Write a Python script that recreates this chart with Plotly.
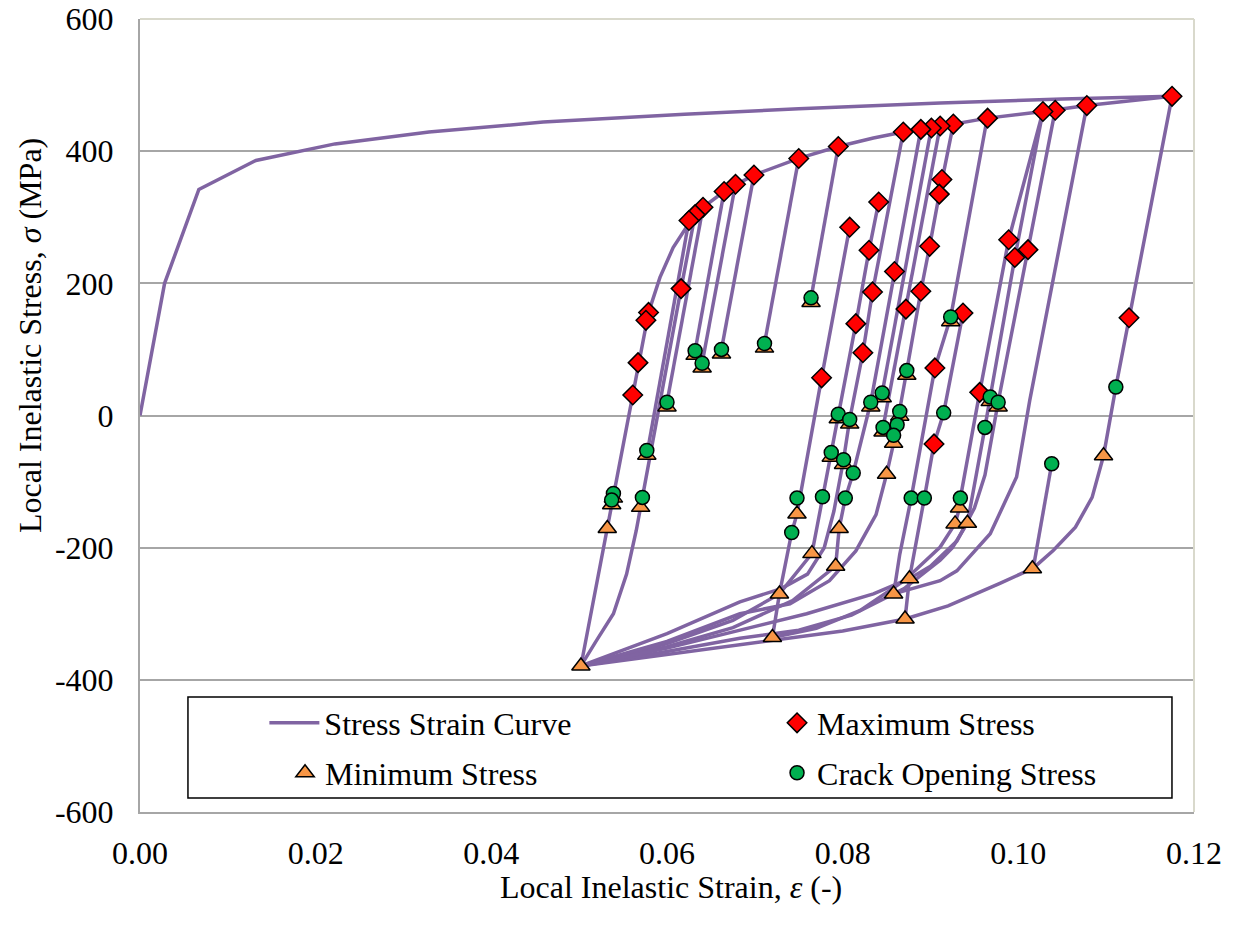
import plotly.graph_objects as go

# ---------------- data ----------------
# stress-strain path, branches separated by None
strain = [
    # monotonic loading
    0.0, 0.0028, 0.0067, 0.0132, 0.0222, 0.0329, 0.0459, 0.0524, 0.0620, 0.0750, 0.0911, 0.1050, 0.1175, None,
    # main unloading
    0.1175, 0.1126, 0.1111, 0.1097, 0.1084, 0.1065, 0.1040, 0.1017, 0.0979, 0.0920, 0.0871, 0.0800, 0.0720, 0.0600, 0.0502, None,
    0.1017, 0.1038, None,
    # reloading envelope
    0.0502, 0.0532, 0.0561, 0.0579, 0.0592, 0.0607, 0.0625, 0.0641, 0.0665, 0.0699, 0.0750, 0.0795, 0.0835, 0.0869, 0.0901, 0.0926, 0.0965, 0.1028, 0.1078, 0.1175, None,
    0.0632, 0.0616, 0.0572, 0.0570, 0.0565, 0.0554, 0.0539, 0.0520, 0.0502, None,
    0.0625, 0.0577, None,
    0.0641, 0.0600, None,
    0.0665, 0.0632, None,
    0.0678, 0.0640, None,
    0.0699, 0.0662, None,
    0.0750, 0.0711, None,
    0.0795, 0.0764, None,
    # inner cycles
    0.0720, 0.0728, 0.0742, 0.0748, 0.0776, 0.0808, None,
    0.0841, 0.0830, 0.0815, 0.0795, 0.0787, 0.0777, 0.0765, 0.0728, 0.0675, 0.0600, 0.0502, None,
    0.0869, 0.0834, 0.0823, 0.0808, 0.0801, 0.0790, 0.0779, 0.0760, 0.0730, 0.0683, 0.0600, 0.0502, None,
    0.0889, 0.0859, 0.0832, 0.0812, 0.0803, 0.0796, 0.0792, 0.0743, 0.0675, 0.0600, 0.0502, None,
    0.0901, 0.0845, None,
    0.0911, 0.0872, 0.0846, None,
    0.0926, 0.0913, 0.0910, 0.0899, 0.0889, 0.0873, 0.0865, 0.0858, 0.0850, 0.0838, 0.0815, 0.0785, 0.0740, 0.0683, 0.0600, 0.0502, None,
    0.0964, 0.0923, 0.0905, 0.0878, 0.0865, 0.0858, None,
    0.1078, 0.1013, 0.0998, 0.0968, 0.0930, 0.0911, 0.0858, None,
    0.0871, 0.0876, 0.0893, 0.0904, 0.0915, 0.0937, None,
    0.1028, 0.0989, 0.0956, 0.0934, 0.0933, 0.0928, 0.0911, 0.0870, 0.0820, 0.0770, 0.0720, None,
    0.1028, 0.0996, 0.0968, 0.0962, 0.0942, 0.0925, 0.0911, 0.0870, 0.0810, 0.0750, 0.0683, 0.0600, 0.0502, None,
    0.1042, 0.1011, 0.0977, 0.0962, 0.0950, 0.0930, 0.0900, 0.0876, 0.0835, 0.0759, 0.0683, 0.0600, 0.0502,
]
stress = [
    0, 200, 342, 386, 411, 429, 444, 449, 456, 464, 473, 479, 483, None,
    483, 148, 43, -61, -124, -169, -204, -231, -254, -288, -308, -326, -340, -362, -379, None,
    -231, -73, None,
    -379, -171, 31, 156, 209, 254, 291, 315, 339, 364, 389, 407, 420, 429, 435, 441, 450, 460, 469, 483, None,
    304, 192, -124, -139, -174, -240, -300, -340, -379, None,
    295, -60, None,
    315, 20, None,
    339, 98, None,
    350, 79, None,
    364, 100, None,
    389, 109, None,
    407, 178, None,
    -336, -270, -177, -149, 57, 285, None,
    323, 250, 139, 2, -56, -123, -209, -270, -310, -345, -379, None,
    429, 187, 95, -6, -67, -145, -200, -240, -262, -282, -330, -379, None,
    433, 218, 20, -87, -125, -171, -228, -280, -321, -350, -379, None,
    435, 34, None,
    438, 161, -18, None,
    441, 357, 335, 256, 188, 68, 6, -42, -89, -150, -205, -250, -285, -300, -342, -379, None,
    446, 149, 72, -125, -210, -270, None,
    469, 23, -93, -179, -235, -250, -270, None,
    -308, -247, -125, -43, 4, 155, None,
    460, 266, 35, -125, -140, -164, -199, -250, -295, -322, -336, None,
    460, 239, 28, -18, -163, -200, -219, -262, -302, -325, -337, -357, -379, None,
    462, 251, 20, -90, -140, -190, -228, -247, -270, -300, -325, -352, -379,
]

max_strain = [0.1175, 0.1078, 0.1042, 0.1028, 0.0965, 0.0926, 0.0911, 0.0901, 0.0889, 0.0869, 0.0795,
              0.0750, 0.0699, 0.0678, 0.0665, 0.0641, 0.0632, 0.0625, 0.0616, 0.0579, 0.0576, 0.0567,
              0.0561, 0.0913, 0.0910, 0.0841, 0.0808, 0.0989, 0.0899, 0.1011, 0.0830, 0.0996, 0.0859,
              0.0834, 0.0889, 0.0872, 0.0937, 0.1126, 0.0815, 0.0823, 0.0905, 0.0776, 0.0956, 0.0904]
max_stress = [483, 469, 462, 460, 450, 441, 438, 435, 433, 429, 407,
              389, 364, 350, 339, 315, 304, 295, 192, 156, 144, 80,
              31, 357, 335, 323, 285, 266, 256, 251, 250, 239, 218,
              187, 188, 161, 155, 148, 139, 95, 72, 57, 35, -43]

min_strain = [0.0502, 0.0532, 0.0570, 0.0577, 0.0600, 0.0632, 0.0640, 0.0662, 0.0711, 0.0764,
              0.0720, 0.0728, 0.0748, 0.0765, 0.0792, 0.0796, 0.0850, 0.0858, 0.0858, 0.0876,
              0.0871, 0.0933, 0.0928, 0.0942, 0.1097, 0.1016, 0.0923, 0.0873, 0.0845, 0.0832,
              0.0968, 0.0977, 0.0795, 0.0808, 0.0865, 0.0787, 0.0801, 0.0846, 0.0539, 0.0537]
min_stress = [-379, -171, -139, -60, 13, 91, 72, 93, 102, 171,
              -336, -270, -149, -209, -228, -171, -89, -42, -270, -247,
              -308, -140, -164, -163, -61, -232, 142, 61, 27, 13,
              21, 13, -5, -13, -1, -63, -74, -25, -125, -135]

cos_strain = [0.0764, 0.0711, 0.0662, 0.0632, 0.0640, 0.0600, 0.0577, 0.0539, 0.0537, 0.0572,
              0.0923, 0.0873, 0.0845, 0.0832, 0.0968, 0.0977, 0.0915, 0.0865, 0.0795, 0.0808,
              0.0862, 0.0846, 0.0858, 0.0962, 0.0787, 0.0801, 0.0812, 0.0748, 0.0777, 0.0803,
              0.0878, 0.0893, 0.0934, 0.0742, 0.1038, 0.1111]
cos_stress = [178, 109, 100, 98, 79, 20, -53, -118, -128, -124,
              149, 68, 34, 20, 28, 20, 4, 6, 2, -6,
              -14, -18, -30, -18, -56, -67, -87, -125, -123, -125,
              -125, -125, -125, -177, -73, 43]

y_tickvals = [-600, -400, -200, 0, 200, 400, 600]
y_ticktext = ["-600", "-400", "-200", "0", "200", "400", "600"]
x_tickvals = [0.00, 0.02, 0.04, 0.06, 0.08, 0.10, 0.12]
x_ticktext = ["0.00", "0.02", "0.04", "0.06", "0.08", "0.10", "0.12"]

# ---------------- figure ----------------
FONT = "Liberation Serif, Times New Roman, serif"
fig = go.Figure()

fig.add_trace(go.Scatter(x=strain, y=stress, mode="lines", name="Stress Strain Curve",
                         line=dict(color="#8064A2", width=3.5), connectgaps=False, legend="legend"))
fig.add_trace(go.Scatter(x=max_strain, y=max_stress, mode="markers", name="Maximum Stress",
                         marker=dict(symbol="diamond", size=15, color="#FF0000",
                                     line=dict(color="black", width=1.5)), legend="legend2"))
fig.add_trace(go.Scatter(x=min_strain, y=min_stress, mode="markers", name="Minimum Stress",
                         marker=dict(symbol="triangle-up", size=16, color="#F79646",
                                     line=dict(color="black", width=1.5)), legend="legend3"))
fig.add_trace(go.Scatter(x=cos_strain, y=cos_stress, mode="markers", name="Crack Opening Stress",
                         marker=dict(symbol="circle", size=14, color="#00B050",
                                     line=dict(color="black", width=1.5)), legend="legend4"))

def leg(x, y, itemwidth=30):
    return dict(orientation="h", bgcolor="rgba(0,0,0,0)", borderwidth=0, itemwidth=itemwidth,
                font=dict(family=FONT, size=32, color="black"),
                xanchor="left", yanchor="middle", x=x, y=y)

fig.update_layout(
    width=1233, height=936,
    margin=dict(l=140, r=39, t=19, b=124),
    paper_bgcolor="white", plot_bgcolor="white",
    font=dict(family=FONT, size=32, color="black"),
    showlegend=True,
    legend=leg(0.118, 0.1122, 50),
    legend2=leg(0.6044, 0.1122),
    legend3=leg(0.1376, 0.0492),
    legend4=leg(0.6044, 0.0492),
    xaxis=dict(range=[0, 0.12], tickvals=x_tickvals, ticktext=x_ticktext, showgrid=False,
               zeroline=False, showline=True, linecolor="#A6A6A6", linewidth=2, automargin=False,
               ticks="outside", ticklen=12, tickcolor="rgba(0,0,0,0)",
               tickfont=dict(family=FONT, size=32, color="black")),
    yaxis=dict(range=[-600, 600], tickvals=y_tickvals, ticktext=y_ticktext, showgrid=True,
               gridcolor="#A6A6A6", gridwidth=2, zeroline=False, showline=True, automargin=False,
               linecolor="#A6A6A6", linewidth=2,
               ticks="outside", ticklen=18, tickcolor="rgba(0,0,0,0)",
               tickfont=dict(family=FONT, size=32, color="black")),
    shapes=[
        dict(type="line", xref="paper", yref="paper", x0=0, x1=1, y0=1, y1=1,
             line=dict(color="#D9D9CC", width=2)),
        dict(type="line", xref="paper", yref="paper", x0=1, x1=1, y0=0, y1=1,
             line=dict(color="#D9D9CC", width=2)),
        dict(type="rect", xref="paper", yref="paper", x0=0.0455, x1=0.9791, y0=0.0177, y1=0.1450,
             fillcolor="white", line=dict(color="black", width=1.5), layer="above"),
    ],
    annotations=[
        dict(text="Local Inelastic Strain, <i>ε</i> (-)", xref="paper", yref="paper",
             x=0.5038, y=-0.0946, xanchor="center", yanchor="middle", showarrow=False,
             font=dict(family=FONT, size=32, color="black")),
        dict(text="Local Inelastic Stress, <i>σ</i> (MPa)", xref="paper", yref="paper",
             x=-0.1044, y=0.6015, xanchor="center", yanchor="middle", showarrow=False,
             textangle=-90, font=dict(family=FONT, size=32, color="black")),
    ],
)

fig.write_html("out.html")
